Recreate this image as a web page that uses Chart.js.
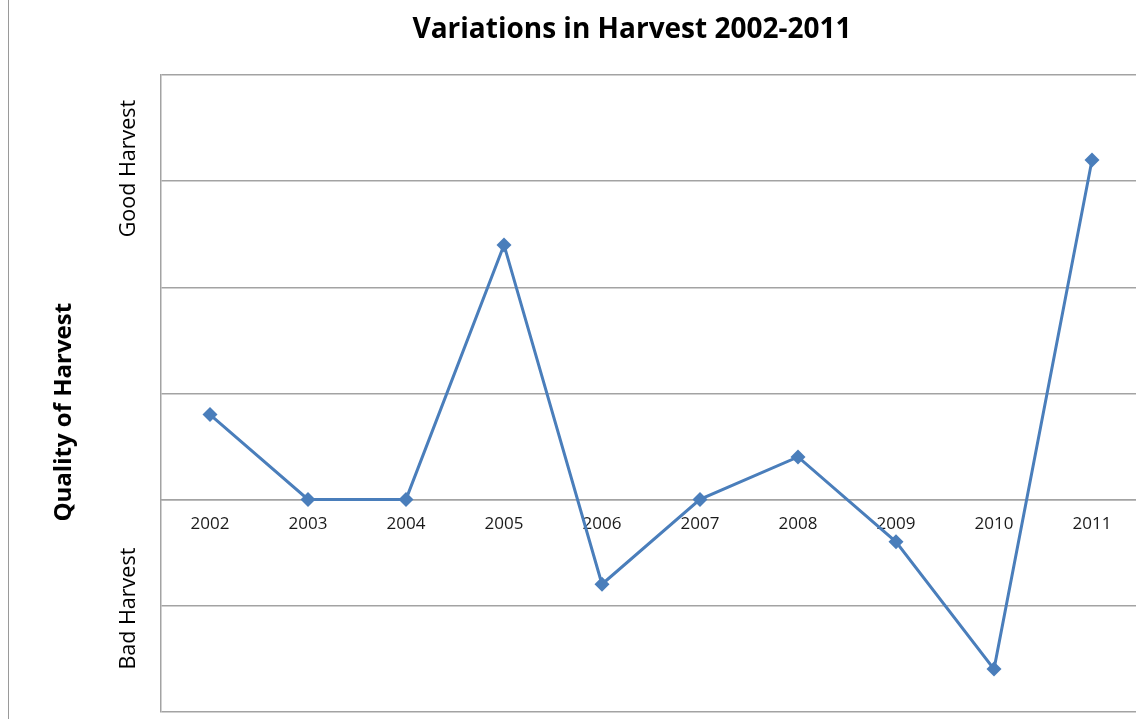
<!DOCTYPE html>
<html lang="en">
<head>
    <meta charset="UTF-8">
    <title>Variations in Harvest 2002-2011</title>
    <script src="https://cdn.jsdelivr.net/npm/chart.js"></script>
    <style>
        * {
            margin: 0;
            padding: 0;
            box-sizing: border-box;
        }
        body {
            width: 1136px;
            height: 719px;
            overflow: hidden;
            background: #fff;
            position: relative;
        }
        .frame {
            position: absolute;
            left: 8px;
            top: 0;
            width: 1px;
            height: 719px;
            background: #9a9a9a;
        }
        .chart-box {
            position: absolute;
            left: 9px;
            top: 0;
            width: 1246px;
            height: 719px;
        }
    </style>
</head>
<body>
    <div class="frame"></div>
    <div class="chart-box">
        <canvas id="harvestChart"></canvas>
    </div>

    <script>
        // Data
        const years = ['2002', '2003', '2004', '2005', '2006', '2007', '2008', '2009', '2010', '2011'];
        const harvest = [0.8, 0, 0, 2.4, -0.8, 0, 0.4, -0.4, -1.6, 3.2];
        const yMin = -2;
        const yMax = 4;

        const gridGrey = '#a3a3a3';
        const lineBlue = '#4a7ebb';

        // Side labels: "Good Harvest", "Bad Harvest" and the axis title
        const sideLabels = {
            id: 'sideLabels',
            afterDraw(chart) {
                const ctx = chart.ctx;
                const y = chart.scales.y;
                const area = chart.chartArea;
                ctx.save();
                ctx.fillStyle = '#000';
                ctx.textAlign = 'center';
                ctx.textBaseline = 'middle';

                function vertical(text, x, yc, font) {
                    ctx.save();
                    ctx.translate(x, yc);
                    ctx.rotate(-Math.PI / 2);
                    ctx.font = font;
                    ctx.fillText(text, 0, 0);
                    ctx.restore();
                }

                vertical('Good Harvest', area.left - 32, y.getPixelForValue(3.12), '21.5px "Open Sans", sans-serif');
                vertical('Bad Harvest', area.left - 32, y.getPixelForValue(-1.03), '21.5px "Open Sans", sans-serif');
                vertical('Quality of Harvest', area.left - 97, area.top + 337, 'bold 24px "Open Sans", sans-serif');
                ctx.restore();
            }
        };

        // left/right padding kept equal so the title centres like the original
        const ctx = document.getElementById('harvestChart').getContext('2d');
        const harvestChart = new Chart(ctx, {
            type: 'line',
            data: {
                labels: years,
                datasets: [{
                    label: 'Harvest',
                    data: harvest,
                    borderColor: lineBlue,
                    backgroundColor: lineBlue,
                    borderWidth: 3,
                    tension: 0,
                    fill: false,
                    pointStyle: 'rectRot',
                    pointRadius: 7.5,
                    pointHoverRadius: 7.5,
                    pointBackgroundColor: lineBlue,
                    pointBorderColor: lineBlue,
                    pointBorderWidth: 0
                }]
            },
            options: {
                responsive: true,
                maintainAspectRatio: false,
                animation: false,
                layout: {
                    padding: { left: 114, right: 114, top: 0, bottom: 4 }
                },
                plugins: {
                    legend: { display: false },
                    tooltip: { enabled: false },
                    title: {
                        display: true,
                        text: 'Variations in Harvest 2002-2011',
                        color: '#000',
                        font: { family: '"Open Sans", sans-serif', size: 28, weight: 'bold' },
                        padding: { top: 13, bottom: 28.6 }
                    }
                },
                scales: {
                    x: {
                        type: 'category',
                        position: { y: 0 },
                        offset: true,
                        grid: { display: false, drawTicks: false },
                        border: { display: true, color: gridGrey, width: 1.5 },
                        ticks: {
                            color: '#1a1a1a',
                            font: { family: '"Open Sans", sans-serif', size: 17 },
                            padding: 15,
                            maxRotation: 0,
                            autoSkip: false
                        }
                    },
                    y: {
                        min: yMin,
                        max: yMax,
                        afterFit(scale) {
                            scale.width = 38;
                        },
                        grid: { color: gridGrey, lineWidth: 1.5, drawTicks: false },
                        border: { display: true, color: gridGrey, width: 1.5 },
                        ticks: { display: false, stepSize: 1 }
                    }
                }
            },
            plugins: [sideLabels]
        });
    </script>
</body>
</html>
